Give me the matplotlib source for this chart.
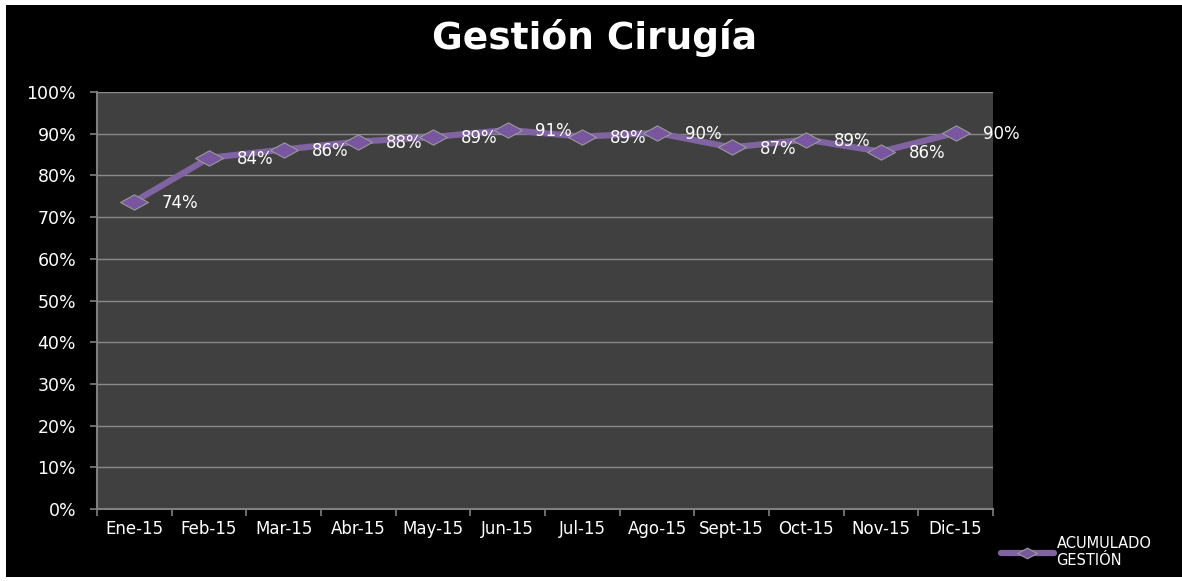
import matplotlib
matplotlib.use("Agg")
import matplotlib.pyplot as plt
from matplotlib.patches import Rectangle
from matplotlib.path import Path
from matplotlib.ticker import PercentFormatter, FixedLocator

meses = ["Ene-15", "Feb-15", "Mar-15", "Abr-15", "May-15", "Jun-15",
         "Jul-15", "Ago-15", "Sept-15", "Oct-15", "Nov-15", "Dic-15"]
acumulado = [0.737, 0.842, 0.862, 0.881, 0.892, 0.909,
             0.893, 0.902, 0.867, 0.886, 0.857, 0.902]
etiquetas = ["74%", "84%", "86%", "88%", "89%", "91%",
             "89%", "90%", "87%", "89%", "86%", "90%"]

plt.rcParams["font.family"] = ["DejaVu Sans"]

W, H = 1182, 581
fig = plt.figure(figsize=(W / 100, H / 100), dpi=100, facecolor="white")

# fondo negro con borde blanco fino
fig.patches.append(Rectangle((6 / W, 4 / H), 1 - 6 / W, 1 - 9 / H,
                             transform=fig.transFigure, facecolor="black",
                             edgecolor="none", zorder=-10))

ax = fig.add_axes([97 / W, (H - 509) / H, 896 / W, 417 / H])
ax.set_facecolor("#404040")

rombo = Path([(-1, 0), (0, 0.55), (1, 0), (0, -0.55), (-1, 0)],
             [Path.MOVETO, Path.LINETO, Path.LINETO, Path.LINETO, Path.CLOSEPOLY])

x = list(range(len(meses)))
ax.plot(x, acumulado, color="#8064A2", lw=4.5, marker=rombo, markersize=20,
        markerfacecolor="#7856A0", markeredgecolor="#9A9A9A",
        markeredgewidth=0.8, solid_capstyle="round", label="ACUMULADO\nGESTIÓN",
        zorder=3)

for xi, yi, t in zip(x, acumulado, etiquetas):
    ax.annotate(t, (xi, yi), xytext=(20, -1), textcoords="offset points",
                ha="left", va="center", color="white", fontsize=12, zorder=4)

ax.set_xlim(-0.5, len(meses) - 0.5)
ax.set_ylim(0, 1)
ax.yaxis.set_major_locator(FixedLocator([i / 10 for i in range(11)]))
ax.yaxis.set_major_formatter(PercentFormatter(1.0, decimals=0))
ax.set_xticks(x)
ax.set_xticklabels(meses)
ax.xaxis.set_minor_locator(FixedLocator([i - 0.5 for i in range(len(meses) + 1)]))
ax.tick_params(axis="x", which="major", length=0, pad=8, colors="white", labelsize=12)
ax.tick_params(axis="x", which="minor", length=5, color="#808080", width=1.2)
ax.tick_params(axis="y", length=5, width=1.2, pad=10,
               colors="white", labelsize=12.5)
ax.tick_params(axis="y", color="#808080")

ax.grid(axis="y", color="#8A8A8A", lw=1)
ax.set_axisbelow(True)
for lado in ["top", "right"]:
    ax.spines[lado].set_visible(False)
for lado in ["left", "bottom"]:
    ax.spines[lado].set_color("#808080")
    ax.spines[lado].set_linewidth(1.5)

fig.text(595 / W, 1 - 38 / H, "Gestión Cirugía", ha="center", va="center",
         color="white", fontsize=27, fontweight="bold")

leg = ax.legend(loc="center left", bbox_to_anchor=(988 / W, 1 - 552 / H),
                bbox_transform=fig.transFigure, frameon=False,
                handlelength=3.6, handletextpad=0.2, fontsize=10.5,
                labelcolor="white", markerscale=0.7, labelspacing=0.2)

fig.savefig("out.png", dpi=100, facecolor=fig.get_facecolor())
